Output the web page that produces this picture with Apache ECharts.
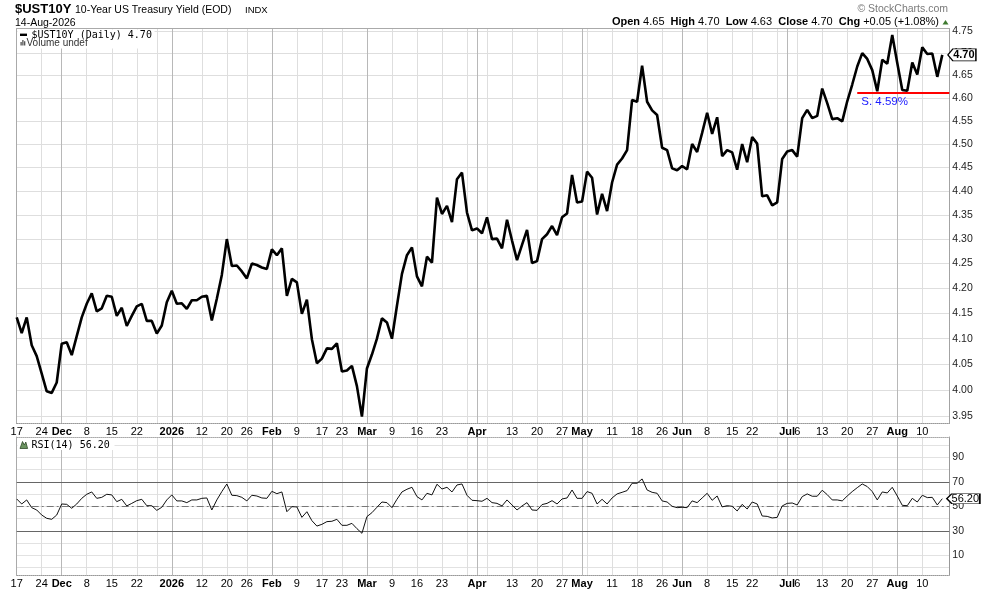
<!DOCTYPE html>
<html>
<head>
<meta charset="utf-8">
<script src="https://cdn.jsdelivr.net/npm/echarts@6/dist/echarts.min.js"></script>
<style>html,body{margin:0;padding:0;background:#fff}#c{width:990px;height:591px}</style>
</head>
<body>
<div id="c"></div>
<script>
// ---------------- data ----------------
const startDate = '2025-11-17';
const endDate = '2026-08-14';
const holidays = ['2025-11-27','2025-12-25','2026-01-01','2026-01-19','2026-02-16',
  '2026-04-03','2026-05-25','2026-06-19','2026-07-03'];

// daily closes, $UST10Y
const closes = [
  4.142, 4.111, 4.142, 4.087, 4.066, 4.032, 3.998, 3.995, 4.015, 4.090,
  4.093, 4.068, 4.105, 4.142, 4.169, 4.190, 4.154, 4.160, 4.185, 4.183,
  4.145, 4.161, 4.125, 4.145, 4.164, 4.169, 4.135, 4.135, 4.110, 4.126,
  4.172, 4.195, 4.169, 4.170, 4.159, 4.176, 4.176, 4.183, 4.185, 4.136,
  4.179, 4.227, 4.300, 4.245, 4.246, 4.234, 4.220, 4.250,
  4.247, 4.242, 4.239, 4.279, 4.267, 4.281, 4.185, 4.219, 4.212, 4.149,
  4.177, 4.099, 4.052, 4.061, 4.081, 4.080, 4.091, 4.036, 4.038, 4.047,
  4.008, 3.950, 4.042, 4.069, 4.100, 4.140, 4.132, 4.100, 4.165, 4.229,
  4.267, 4.283, 4.224, 4.204, 4.264, 4.252, 4.386, 4.352, 4.369, 4.335,
  4.425, 4.439, 4.355, 4.318, 4.322, 4.312, 4.345,
  4.300, 4.301, 4.281, 4.340, 4.297, 4.257, 4.288, 4.319, 4.251, 4.255,
  4.300, 4.310, 4.327, 4.308, 4.345, 4.353, 4.434, 4.376, 4.378, 4.441,
  4.428, 4.351, 4.394, 4.358, 4.418, 4.456, 4.469, 4.487, 4.596, 4.592,
  4.672, 4.592, 4.573, 4.563, 4.492, 4.487, 4.448, 4.444, 4.453, 4.446,
  4.500, 4.483, 4.524, 4.568, 4.522, 4.558, 4.474,
  4.487, 4.482, 4.445, 4.500, 4.461, 4.515, 4.501, 4.389, 4.391, 4.370,
  4.376, 4.468, 4.484, 4.487, 4.473, 4.556, 4.574, 4.556, 4.561, 4.621,
  4.589, 4.554, 4.556, 4.549, 4.593, 4.630, 4.670, 4.700, 4.687, 4.662,
  4.615, 4.685, 4.676, 4.741, 4.678, 4.618, 4.616, 4.679, 4.652, 4.713,
  4.698, 4.699, 4.647, 4.696
];

// RSI(14)
const rsi = [
  56.0, 51.9, 55.2, 48.9, 47.0, 42.9, 40.2, 39.4, 42.9, 51.9,
  51.6, 48.4, 51.9, 56.5, 59.8, 61.7, 56.5, 57.3, 59.8, 59.3,
  53.8, 55.7, 50.3, 52.4, 54.6, 55.7, 50.5, 50.5, 46.7, 49.2,
  55.2, 59.3, 54.4, 54.4, 53.0, 55.2, 55.2, 56.5, 56.8, 47.0,
  55.2, 62.0, 68.2, 59.0, 58.7, 57.3, 54.4, 59.0, 58.4, 56.8,
  56.5, 62.2, 60.3, 61.7, 45.6, 49.7, 49.5, 41.0, 45.6, 38.3,
  33.9, 35.3, 37.5, 37.8, 39.4, 34.5, 34.5, 36.1, 31.8, 28.0,
  41.6, 44.8, 49.2, 53.5, 53.0, 48.9, 55.7, 61.7, 63.9, 65.5,
  57.9, 55.2, 60.6, 59.3, 68.0, 64.1, 65.5, 61.7, 67.4, 68.2,
  59.0, 54.9, 54.6, 54.1, 56.5,
  53.0, 52.4, 50.3, 55.2, 51.1, 47.0, 50.3, 53.0, 47.0, 46.7,
  51.4, 52.4, 54.6, 51.9, 56.0, 56.8, 63.3, 56.5, 56.5, 62.0,
  60.6, 51.9, 55.7, 51.9, 56.8, 60.1, 61.4, 62.8, 68.8, 68.8,
  72.3, 63.3, 61.4, 60.6, 54.4, 53.5, 50.0, 48.9, 49.2, 48.9,
  54.4, 53.0, 56.8, 60.6, 54.9, 58.4, 49.5, 50.5, 50.0, 46.2,
  51.6, 47.8, 53.5, 51.9, 42.1, 41.8, 40.5, 41.0, 50.3, 52.4,
  52.7, 51.1, 57.9, 60.1, 58.2, 58.2, 63.1, 59.5, 55.2, 55.2,
  54.4, 58.4, 62.0, 65.2, 68.2, 66.1, 62.0, 55.2, 61.7, 60.9,
  65.5, 58.4, 50.8, 50.5, 56.5, 53.5, 59.0, 57.1, 57.3, 51.1,
  56.2
];

const yTickLabels = ['3.95','4.00','4.05','4.10','4.15','4.20','4.25','4.30','4.35',
  '4.40','4.45','4.50','4.55','4.60','4.65','4.70','4.75'];
const rsiGridValues = [0,10,20,30,40,50,60,70,80,90,100];
const rsiTickLabels = [10,30,50,70,90];
const rsiLevels = {upper:70, mid:50, lower:30};

const xTickLabels = [
  ['2025-11-17','17'],['2025-11-24','24'],['2025-12-01','Dec'],['2025-12-08','8'],
  ['2025-12-15','15'],['2025-12-22','22'],['2026-01-02','2026'],['2026-01-12','12'],
  ['2026-01-20','20'],['2026-01-26','26'],['2026-02-02','Feb'],['2026-02-09','9'],
  ['2026-02-17','17'],['2026-02-23','23'],['2026-03-02','Mar'],['2026-03-09','9'],
  ['2026-03-16','16'],['2026-03-23','23'],['2026-04-01','Apr'],['2026-04-13','13'],
  ['2026-04-20','20'],['2026-04-27','27'],['2026-05-01','May'],['2026-05-11','11'],
  ['2026-05-18','18'],['2026-05-26','26'],['2026-06-01','Jun'],['2026-06-08','8'],
  ['2026-06-15','15'],['2026-06-22','22'],['2026-07-01','Jul'],['2026-07-06','6'],
  ['2026-07-13','13'],['2026-07-20','20'],['2026-07-27','27'],['2026-08-03','Aug'],
  ['2026-08-10','10']
];
const monthStarts = ['2025-12-01','2026-01-02','2026-02-02','2026-03-02','2026-04-01',
  '2026-05-01','2026-06-01','2026-07-01','2026-08-03'];
const weekStarts = ['2025-11-24','2025-12-08','2025-12-15','2025-12-22','2025-12-29',
  '2026-01-12','2026-01-20','2026-01-26','2026-02-09','2026-02-17','2026-02-23',
  '2026-03-09','2026-03-16','2026-03-23','2026-03-30','2026-04-06','2026-04-13',
  '2026-04-20','2026-04-27','2026-05-04','2026-05-11','2026-05-18','2026-05-26',
  '2026-06-08','2026-06-15','2026-06-22','2026-06-29','2026-07-06','2026-07-13',
  '2026-07-20','2026-07-27','2026-08-10'];

const support = {from:'2026-07-22', level:4.612, text:'S. 4.59%'};

// ---------------- build ----------------
const dates = [];
(function(){
  const h = new Set(holidays);
  let d = new Date(startDate + 'T00:00:00Z');
  const end = new Date(endDate + 'T00:00:00Z');
  while (d <= end) {
    const wd = d.getUTCDay();
    const s = d.toISOString().slice(0,10);
    if (wd !== 0 && wd !== 6 && !h.has(s)) dates.push(s);
    d = new Date(d.getTime() + 86400000);
  }
})();
const idx = d => dates.indexOf(d);
const X_MAX = dates.length + 0.4;   // axis runs a little past the last session
const Y_MIN = 3.937, Y_MAX = 4.7557;
const FONT = '"Liberation Sans", Arial, Helvetica, sans-serif';
const MONO = '"DejaVu Sans Mono", "Liberation Mono", monospace';

const labelMap = {};
xTickLabels.forEach(([d,t]) => { labelMap[idx(d)] = t; });
const monthIdx = monthStarts.map(idx);
const monthSet = new Set(monthIdx);
const weekIdx = weekStarts.map(idx);
const labelIdx = xTickLabels.map(t => idx(t[0]));
const xFmt = v => {
  const i = Math.round(v);
  const t = labelMap[i];
  if (t === undefined) return '';
  return monthSet.has(i) ? '{b|' + t + '}' : t;
};
const yLog = yTickLabels.map(s => Math.log(parseFloat(s)));

function bottomX(grid) {
  return {
    type:'value', gridIndex:grid, min:0, max:X_MAX, position:'bottom',
    axisLine:{show:true, onZero:false, lineStyle:{color:'#999', type:'dotted'}},
    axisTick:{show:false, customValues:weekIdx},
    splitLine:{show:true, lineStyle:{color:'#dedede', width:1}},
    axisLabel:{customValues:labelIdx, formatter:xFmt, margin:3, color:'#000',
      fontSize:11, fontFamily:FONT,
      rich:{b:{fontWeight:'bold', fontSize:11, fontFamily:FONT, color:'#000'}}}
  };
}
function topX(grid, dotted) {
  return {
    type:'value', gridIndex:grid, min:0, max:X_MAX, position:'top',
    axisLine:{show:true, onZero:false, lineStyle:{color:'#aaa', type: dotted ? 'dotted' : 'solid'}},
    axisTick:{show:false, customValues:monthIdx},
    axisLabel:{show:false},
    splitLine:{show:true, lineStyle:{color:'#b8b8b8', width:1}}
  };
}
function leftY(grid, min, max) {
  return {type:'value', gridIndex:grid, position:'left', min:min, max:max,
    axisLine:{show:true, onZero:false, lineStyle:{color:'#aaa'}},
    axisTick:{show:false}, axisLabel:{show:false}, splitLine:{show:false}};
}

const priceData = closes.map((v,i) => [i, Math.log(v)]);
const rsiData = rsi.map((v,i) => [i, v]);
const last = closes.length - 1;

function txt(x, y, text, font, fill, extra) {
  return Object.assign({type:'text', x:x, y:y, z:100, silent:true,
    style:Object.assign({text:text, font:font, fill:fill || '#000',
      verticalAlign:'middle', textVerticalAlign:'middle'}, extra || {})});
}

const option = {
  animation:false,
  backgroundColor:'#fff',
  grid:[
    {left:16.7, top:28.5, width:932.6, height:395, outerBoundsMode:'none', containLabel:false},
    {left:16.7, top:437, width:932.6, height:138, outerBoundsMode:'none', containLabel:false}
  ],
  xAxis:[ bottomX(0), topX(0,false), bottomX(1), topX(1,true) ],
  yAxis:[
    {type:'value', gridIndex:0, position:'right', min:Math.log(Y_MIN), max:Math.log(Y_MAX),
      axisLine:{show:true, onZero:false, lineStyle:{color:'#999', type:'dotted'}},
      axisTick:{show:false, customValues:yLog},
      axisLabel:{customValues:yLog, formatter:v => Math.exp(v).toFixed(2), margin:3,
        color:'#222', fontSize:10.5, fontFamily:FONT},
      splitLine:{show:true, lineStyle:{color:'#dedede'}}},
    leftY(0, Math.log(Y_MIN), Math.log(Y_MAX)),
    {type:'value', gridIndex:1, position:'right', min:-6, max:106.5,
      axisLine:{show:true, onZero:false, lineStyle:{color:'#999'}},
      axisTick:{show:false, customValues:rsiGridValues},
      axisLabel:{customValues:rsiTickLabels, margin:3, color:'#222', fontSize:10.5, fontFamily:FONT},
      splitLine:{show:true, lineStyle:{color:'#e2e2e2'}}},
    leftY(1, -6, 106.5)
  ],
  series:[
    {
      name:'$UST10Y', type:'line', xAxisIndex:0, yAxisIndex:0, data:priceData,
      showSymbol:false, symbol:'none', silent:true, z:5,
      lineStyle:{color:'#000', width:2.6},
      markLine:{
        silent:true, symbol:['none','none'], animation:false,
        lineStyle:{color:'#ff0000', width:2, type:'solid'},
        label:{show:true, position:'insideStartBottom', formatter:support.text,
          color:'#1a1aff', fontSize:11.5, fontFamily:FONT, distance:[4,3]},
        data:[[ {coord:[idx(support.from), Math.log(support.level)]},
                {coord:[X_MAX, Math.log(support.level)]} ]]
      },
      markPoint:{
        silent:true, animation:false,
        symbol:'path://M0,6L5,0L28,0L28,12L5,12Z', symbolSize:[28,12], symbolOffset:[19.6,0],
        itemStyle:{color:'#fff', borderColor:'#000', borderWidth:1},
        label:{show:true, position:'inside', offset:[2,0], formatter:closes[last].toFixed(2),
          color:'#000', fontWeight:'bold', fontSize:11, fontFamily:FONT},
        data:[{coord:[last, Math.log(closes[last])]}]
      }
    },
    {
      name:'RSI(14)', type:'line', xAxisIndex:2, yAxisIndex:2, data:rsiData,
      showSymbol:false, symbol:'none', silent:true, z:5,
      lineStyle:{color:'#111', width:1},
      markLine:{
        silent:true, symbol:['none','none'], animation:false, label:{show:false},
        data:[
          {yAxis:rsiLevels.upper, lineStyle:{color:'#666', width:1, type:'solid'}},
          {yAxis:rsiLevels.lower, lineStyle:{color:'#666', width:1, type:'solid'}},
          {yAxis:rsiLevels.mid, lineStyle:{color:'#777', width:1, type:[7,3,2,3]}}
        ]
      },
      markPoint:{
        silent:true, animation:false,
        symbol:'path://M0,5L5,0L33,0L33,10L5,10Z', symbolSize:[33,10], symbolOffset:[21,0],
        itemStyle:{color:'#fff', borderColor:'#000', borderWidth:1},
        label:{show:true, position:'inside', offset:[2,0], formatter:rsi[last].toFixed(2),
          color:'#000', fontSize:11, fontFamily:FONT},
        data:[{coord:[last, rsi[last]]}]
      }
    }
  ],
  graphic:[
    txt(15, 9.5, '$UST10Y', 'bold 13px ' + FONT),
    txt(75, 10, '10-Year US Treasury Yield (EOD)', '10.5px ' + FONT),
    txt(245, 10.5, 'INDX', '9.5px ' + FONT),
    txt(15, 23.5, '14-Aug-2026', '10.5px ' + FONT),
    txt(948, 9, '\u00a9 StockCharts.com', '10.5px ' + FONT, '#7a7a7a', {align:'right', textAlign:'right'}),
    txt(939, 22, '{b|Open} 4.65  {b|High} 4.70  {b|Low} 4.63  {b|Close} 4.70  {b|Chg} +0.05 (+1.08%)',
      '11px ' + FONT, '#000', {align:'right', textAlign:'right',
      rich:{b:{fontWeight:'bold', fontSize:11, fontFamily:FONT, fill:'#000', color:'#000'}}}),
    {type:'polygon', z:100, silent:true, shape:{points:[[942.5,24.5],[948.5,24.5],[945.5,20]]},
      style:{fill:'#3d7a2e'}},
    // in-plot legend boxes
    {type:'rect', z:99, silent:true, shape:{x:17.5, y:29.5, width:137, height:19}, style:{fill:'#fff'}},
    {type:'rect', z:100, silent:true, shape:{x:20, y:33.6, width:7, height:2.4}, style:{fill:'#000'}},
    txt(31.5, 35.5, '$UST10Y (Daily) 4.70', '10px ' + MONO),
    {type:'rect', z:100, silent:true, shape:{x:20.5, y:42, width:1.2, height:3.5}, style:{fill:'#444'}},
    {type:'rect', z:100, silent:true, shape:{x:22.3, y:40, width:1.2, height:5.5}, style:{fill:'#444'}},
    {type:'rect', z:100, silent:true, shape:{x:24.1, y:41.2, width:1.2, height:4.3}, style:{fill:'#444'}},
    txt(26.5, 43.5, 'Volume undef', '10px ' + FONT, '#333'),
    {type:'rect', z:99, silent:true, shape:{x:17.5, y:438, width:97, height:12}, style:{fill:'#fff'}},
    {type:'polygon', z:100, silent:true, shape:{points:[[20,448.5],[22.5,441.5],[24.3,445],[25.8,442],[27.6,448.5]]},
      style:{fill:'#6b9460', stroke:'#2f4a28', lineWidth:0.8}},
    txt(31.5, 445, 'RSI(14) 56.20', '10px ' + MONO)
  ]
};

const chart = echarts.init(document.getElementById('c'), null, {renderer:'canvas'});
chart.setOption(option);
</script>
</body>
</html>
